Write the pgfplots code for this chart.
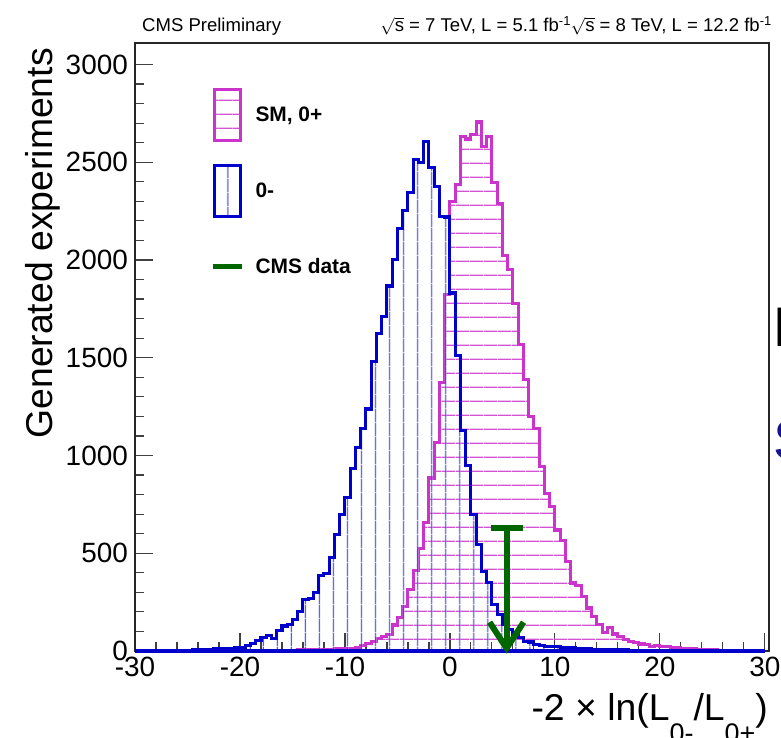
\documentclass[border=0pt]{standalone}
\usepackage{fontspec}
\setmainfont{Liberation Sans}
\usepackage{pgfplots}
\usepackage{pgfplotstable}
\pgfplotsset{compat=1.18}
\usetikzlibrary{patterns.meta,arrows.meta}
\definecolor{pinkh}{RGB}{204,51,204}
\definecolor{blueh}{RGB}{0,0,204}
\definecolor{greenh}{RGB}{0,102,0}
\definecolor{navyt}{RGB}{20,20,140}

% bin left edge, SM 0+ (pink), 0- (blue)
\pgfplotstableread{
x sm ps
-30.0 0 0
-29.5 0 0
-29.0 0 0
-28.5 0 1
-28.0 0 0
-27.5 0 1
-27.0 0 2
-26.5 0 1
-26.0 0 2
-25.5 0 3
-25.0 0 4
-24.5 0 5
-24.0 0 6
-23.5 0 7
-23.0 0 7
-22.5 0 12
-22.0 0 12
-21.5 0 14
-21.0 0 15
-20.5 0 16
-20.0 1 20
-19.5 1 30
-19.0 2 39
-18.5 1 56
-18.0 2 70
-17.5 2 78
-17.0 3 63
-16.5 3 105
-16.0 3 128
-15.5 4 135
-15.0 4 163
-14.5 5 200
-14.0 5 263
-13.5 6 268
-13.0 6 300
-12.5 7 386
-12.0 8 395
-11.5 9 480
-11.0 10 598
-10.5 11 697
-10.0 13 785
-9.5 15 932
-9.0 18 1039
-8.5 30 1140
-8.0 40 1238
-7.5 50 1479
-7.0 65 1624
-6.5 76 1711
-6.0 85 1867
-5.5 133 2001
-5.0 171 2159
-4.5 226 2255
-4.0 315 2345
-3.5 410 2513
-3.0 523 2498
-2.5 655 2606
-2.0 885 2472
-1.5 1065 2374
-1.0 1375 2223
-0.5 1825 2220
0.0 2300 1831
0.5 2385 1512
1.0 2633 1130
1.5 2619 950
2.0 2642 698
2.5 2706 546
3.0 2581 406
3.5 2631 350
4.0 2395 238
4.5 2290 185
5.0 2022 135
5.5 1950 112
6.0 1778 86
6.5 1568 68
7.0 1387 50
7.5 1199 46
8.0 1136 31
8.5 943 30
9.0 807 22
9.5 739 22
10.0 619 21
10.5 565 20
11.0 457 18
11.5 348 16
12.0 335 14
12.5 278 12
13.0 220 10
13.5 176 9
14.0 135 8
14.5 95 7
15.0 118 6
15.5 87 6
16.0 72 5
16.5 58 5
17.0 48 4
17.5 44 4
18.0 36 3
18.5 35 3
19.0 24 3
19.5 30 2
20.0 22 2
20.5 21 2
21.0 19 2
21.5 16 2
22.0 15 1
22.5 13 1
23.0 11 1
23.5 9 1
24.0 8 1
24.5 6 1
25.0 5 1
25.5 4 1
26.0 3 0
26.5 3 0
27.0 2 0
27.5 2 0
28.0 1 0
28.5 1 0
29.0 1 0
29.5 0 0
30.0 0 0
}\hist

\begin{document}
\begin{tikzpicture}
\path[use as bounding box] (0,0) rectangle (781bp,738bp);
\begin{axis}[
  at={(135bp,87bp)}, anchor=south west,
  width=634bp, height=608bp, scale only axis,
  xmin=-30, xmax=30.4, ymin=0, ymax=3110,
  clip=false,
  axis line style={black!85, line width=1.3bp},
  tick align=inside,
  xtick pos=lower, ytick pos=left,
  xtick={-30,-20,-10,0,10,20,30},
  xticklabels={-30,-20,-10,0,10,20,30},
  ytick={0,500,1000,1500,2000,2500,3000},
  yticklabels={0,500,1000,1500,2000,2500,3000},
  minor x tick num=4, minor y tick num=4,
  major tick length=18bp, minor tick length=9bp,
  every tick/.style={black!75, line width=1.2bp},
  tick label style={font=\fontsize{28}{28}\selectfont, inner sep=0pt},
  yticklabel style={xshift=-7bp},
  xticklabel style={yshift=-6bp},
  ylabel={Generated experiments},
  ylabel style={font=\fontsize{37.5}{37.5}\selectfont, inner sep=0pt,
    at={(axis description cs:-0.1183,0.9918)}, anchor=south east},
  xlabel={-2 × ln(L\raisebox{-22bp}{\fontsize{27}{27}\selectfont 0-}/L\raisebox{-22bp}{\fontsize{27}{27}\selectfont 0+})},
  xlabel style={font=\fontsize{37.5}{37.5}\selectfont, inner sep=0pt,
    at={(axis description cs:0.9984,-0.1135)}, anchor=base east},
  legend style={at={(axis description cs:0.1183,0.9255)}, anchor=north west,
    draw=none, fill=none, inner sep=0pt, row sep=22.5bp, column sep=11bp,
    font=\bfseries\fontsize{21}{21}\selectfont, nodes={inner sep=0pt}},
  legend cell align=left,
]
\addplot[pinkh, line width=3.1bp, const plot,
  pattern={Lines[angle=0,distance=14.2bp,line width=1.2bp]}, pattern color=pinkh!85,
  legend image code/.code={
    \path[draw=none,fill=none] (0bp,-26.7bp) rectangle (29.3bp,26.7bp);
    \draw[pinkh, line width=3bp, pattern={Lines[angle=0,distance=14.2bp,line width=1.2bp]}, pattern color=pinkh!85]
      (1.5bp,-25.2bp) rectangle (27.8bp,25.2bp);}]
  table[x=x,y=sm]{\hist} \closedcycle;
\addlegendentry{SM, 0+}
\addplot[blueh, line width=3.1bp, const plot,
  pattern={Lines[angle=90,distance=14.2bp,line width=1.2bp]}, pattern color=blueh!75,
  legend image code/.code={
    \path[draw=none,fill=none] (0bp,-26.7bp) rectangle (29.3bp,26.7bp);
    \draw[blueh, line width=3bp, pattern={Lines[angle=90,distance=14.2bp,line width=1.2bp]}, pattern color=blueh!75]
      (1.5bp,-25.2bp) rectangle (27.8bp,25.2bp);}]
  table[x=x,y=ps]{\hist} \closedcycle;
\addlegendentry{0-}
\addplot[greenh, line width=6bp,
  legend image code/.code={
    \path[draw=none,fill=none] (0bp,-26.7bp) rectangle (29.3bp,26.7bp);
    \draw[greenh, line width=5bp] (0bp,0bp) -- (29.3bp,0bp);}]
  coordinates {(3.9,628) (6.98,628)};
\addlegendentry{CMS data}
\addplot[greenh, line width=6bp, forget plot,
  -{Straight Barb[length=26bp,width=34bp]}]
  coordinates {(5.4,628) (5.4,-14)};
\end{axis}
\node[anchor=base west, inner sep=0pt, font=\fontsize{18.6}{18.6}\selectfont] at (142bp,706bp) {CMS Preliminary};
\node[anchor=base east, inner sep=0pt, font=\fontsize{18.6}{18.6}\selectfont] at (772bp,706bp)
  {$\sqrt{\mbox{s}}$ = 7 TeV, L = 5.1 fb\textsuperscript{-1}$\sqrt{\mbox{s}}$ = 8 TeV, L = 12.2 fb\textsuperscript{-1}};
\node[anchor=base west, inner sep=0pt, font=\fontsize{56}{56}\selectfont] at (773bp,391bp) {P};
\node[anchor=base west, inner sep=0pt, font=\fontsize{56}{56}\selectfont, text=navyt] at (773bp,278bp) {S};
\end{tikzpicture}
\end{document}
